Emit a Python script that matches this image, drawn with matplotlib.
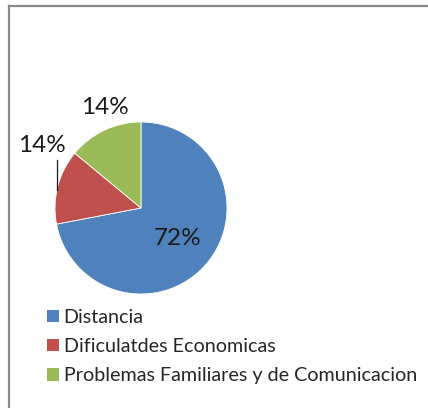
import matplotlib
matplotlib.use("Agg")
import matplotlib.pyplot as plt
from matplotlib.lines import Line2D
from matplotlib.patches import Patch
import numpy as np

categories = ["Distancia", "Dificulatdes Economicas", "Problemas Familiares y de Comunicacion"]
values = [72, 14, 14]
colors = ["#4F81BD", "#C0504D", "#9BBB59"]
pct_labels = ["72%", "14%", "14%"]

W, H = 428, 408
fig = plt.figure(figsize=(W / 100, H / 100), dpi=100)
fig.patch.set_facecolor("white")

FONT = ["Lato", "DejaVu Sans"]

# frame (left & top visible)
fig.add_artist(Line2D([9 / W, 9 / W], [0, 1 - 6 / H], color="#8a8a8a", lw=1.6,
                      transform=fig.transFigure))
fig.add_artist(Line2D([9 / W, 1], [1 - 6 / H, 1 - 6 / H], color="#8a8a8a", lw=1.6,
                      transform=fig.transFigure))

cx, cy, r = 141, 208, 86
ax = fig.add_axes([(cx - r) / W, (H - cy - r) / H, 2 * r / W, 2 * r / H])
wedges, _ = ax.pie(values, colors=colors, startangle=90, counterclock=False,
                   radius=1, wedgeprops=dict(edgecolor="white", linewidth=0.6))
ax.set_xlim(-1, 1)
ax.set_ylim(-1, 1)
ax.set_aspect("equal")
ax.axis("off")

# label positions: (distance, angle offset) per wedge
label_pos = [(0.55, 0.0), (1.36, -18.0), (1.24, -5.4)]
for w, lab, (d, da) in zip(wedges, pct_labels, label_pos):
    mid = np.deg2rad((w.theta1 + w.theta2) / 2 + da)
    ax.text(d * np.cos(mid), d * np.sin(mid), lab, ha="center", va="center",
            fontsize=17.5, color="#1a1a1a", family=FONT, clip_on=False)

# leader line for red label
ax.add_line(Line2D([-0.977, -0.977], [0.558, 0.209], color="#1a1a1a", lw=0.9,
                   clip_on=False))

handles = [Patch(facecolor=c, edgecolor="none") for c in colors]
fig.legend(handles, categories, loc="upper left",
           bbox_to_anchor=(37 / W, 1 - 299 / H), frameon=False,
           prop=dict(family=FONT, size=14.2), handlelength=0.6, handleheight=0.6,
           handletextpad=0.25, labelspacing=0.62, borderpad=0, labelcolor="#262626")

fig.savefig("out.png", dpi=100)
